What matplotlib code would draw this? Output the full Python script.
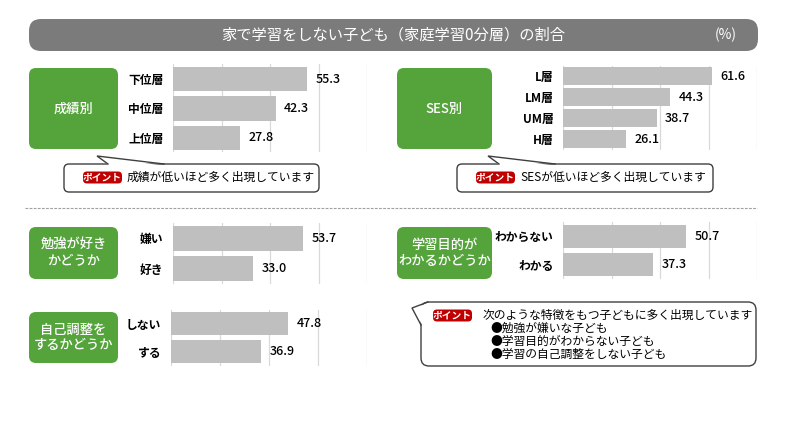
import matplotlib
matplotlib.use('Agg')
import matplotlib.pyplot as plt
from matplotlib.patches import FancyBboxPatch, Polygon

plt.rcParams['font.family'] = ['Noto Sans CJK JP', 'DejaVu Sans']

title = '家で学習をしない子ども（家庭学習0分層）の割合'
unit = '(%)'

grade_labels = ['下位層', '中位層', '上位層']
grade_values = [55.3, 42.3, 27.8]

ses_labels = ['L層', 'LM層', 'UM層', 'H層']
ses_values = [61.6, 44.3, 38.7, 26.1]

like_labels = ['嫌い', '好き']
like_values = [53.7, 33.0]

purpose_labels = ['わからない', 'わかる']
purpose_values = [50.7, 37.3]

selfreg_labels = ['しない', 'する']
selfreg_values = [47.8, 36.9]

group_names = ['成績別', 'SES別', '勉強が好き\nかどうか', '学習目的が\nわかるかどうか', '自己調整を\nするかどうか']
point_grade = '成績が低いほど多く出現しています'
point_ses = 'SESが低いほど多く出現しています'
point_lines = ['次のような特徴をもつ子どもに多く出現しています',
               '●勉強が嫌いな子ども',
               '●学習目的がわからない子ども',
               '●学習の自己調整をしない子ども']

W, H = 794, 436
GREEN = '#55a43b'
BAR = '#bfbfbf'
EDGE = '#3f3f3f'
RED = '#c00000'

fig = plt.figure(figsize=(W / 100, H / 100), dpi=100)
bg = fig.add_axes([0, 0, 1, 1])
bg.set_xlim(0, W)
bg.set_ylim(H, 0)
bg.axis('off')


def rbox(x0, y0, x1, y1, r, fc, ec='none', lw=1.0, z=1):
    p = FancyBboxPatch((x0, y0), x1 - x0, y1 - y0,
                       boxstyle=f'round,pad=0,rounding_size={r}',
                       fc=fc, ec=ec, lw=lw, zorder=z)
    bg.add_patch(p)


def badge(x, y):
    rbox(x, y - 6, x + 39, y + 6, 4, RED, z=5)
    bg.text(x + 19.5, y, 'ポイント', color='white', fontsize=7, fontweight='bold',
            ha='center', va='center', zorder=6)


def tail(apex, b1, b2, fill):
    bg.add_patch(Polygon(fill, closed=True, fc='white', ec='none', zorder=3))
    bg.plot([b1[0], apex[0], b2[0]], [b1[1], apex[1], b2[1]], color=EDGE, lw=1.0,
            zorder=4, solid_joinstyle='miter')


# title bar
rbox(29, 19, 758, 51, 12, '#7b7b7b')
bg.text(393, 35.5, title, color='white', fontsize=11, ha='center', va='center')
bg.text(726, 35, unit, color='white', fontsize=10, ha='center', va='center')

# green group boxes
boxes = [(29, 68, 118, 149), (397, 68, 492, 149), (29, 227, 118, 279),
         (397, 227, 492, 279), (29, 312, 118, 363)]
for (x0, y0, x1, y1), name in zip(boxes, group_names):
    rbox(x0, y0, x1, y1, 7, GREEN)
    bg.text((x0 + x1) / 2, (y0 + y1) / 2, name, color='white', fontsize=9.5,
            fontweight='medium', ha='center', va='center', linespacing=1.15)

# dashed separator
bg.plot([25, 757], [208, 208], color='#a0a0a0', lw=0.8, ls=(0, (2.5, 1.2)))

# callouts (top)
for (x0, x1, ax_, text) in [(64, 319, 97, point_grade), (457, 713, 488, point_ses)]:
    rbox(x0, 164, x1, 192, 5, 'white', EDGE, 1.0, z=2)
    b1, b2 = (ax_ + 11, 164), (ax_ + 67, 164)
    tail((ax_, 156), b1, b2, [(ax_, 156), (b1[0] + 0.8, 165.5), (b2[0] - 2, 165.5)])
    badge(x0 + 19, 177.5)
    bg.text(x0 + 63, 177.5, text, fontsize=8.5, ha='left', va='center', zorder=6)

# callout (bottom right)
rbox(421, 302, 756, 366, 8, 'white', EDGE, 1.0, z=2)
tail((412, 308), (428, 302), (421, 325),
     [(412, 308), (428.5, 303.2), (425, 312), (422.3, 325)])
badge(433, 315.5)
bg.text(483, 315.5, point_lines[0], fontsize=8.5, ha='left', va='center', zorder=6)
for k, line in enumerate(point_lines[1:]):
    bg.text(490, 328.5 + 13 * k, line, fontsize=8.5, ha='left', va='center', zorder=6)


# bar panels
def panel(labels, values, x0, x1, y0, y1, height=0.82):
    ax = fig.add_axes([x0 / W, 1 - y1 / H, (x1 - x0) / W, (y1 - y0) / H])
    n = len(values)
    ys = list(range(n))
    ax.barh(ys, values, height=height, color=BAR, zorder=2)
    ax.set_xlim(0, 80)
    ax.set_ylim(n - 0.5, -0.5)
    ax.set_xticks([0, 20, 40, 60, 80])
    ax.grid(axis='x', color='#d9d9d9', lw=0.9, zorder=0)
    ax.tick_params(axis='x', length=0, labelbottom=False)
    ax.set_yticks(ys)
    ax.set_yticklabels(labels, fontsize=8.5, fontweight='bold')
    ax.tick_params(axis='y', length=0, pad=7)
    for s in ax.spines.values():
        s.set_visible(False)
    ax.patch.set_alpha(0)
    for y, v in zip(ys, values):
        ax.annotate(f'{v:.1f}', (v, y), xytext=(6, 0), textcoords='offset points',
                    ha='left', va='center', fontsize=9, fontweight='medium', zorder=3)
    return ax


panel(grade_labels, grade_values, 173, 367, 64.5, 152.5)
panel(ses_labels, ses_values, 563, 757, 65.5, 149.5, height=0.84)
panel(like_labels, like_values, 173, 367, 223, 284)
panel(purpose_labels, purpose_values, 563, 757, 222, 279)
panel(selfreg_labels, selfreg_values, 171, 367, 309.5, 365.5)

fig.savefig('out.png', dpi=100)
